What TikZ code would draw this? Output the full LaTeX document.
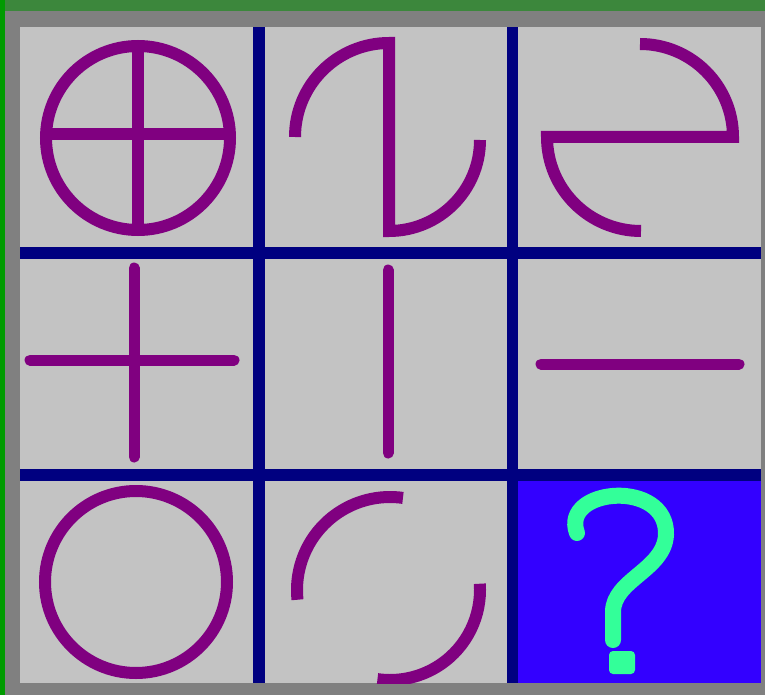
\documentclass[tikz,border=0pt]{standalone}
\definecolor{topgreen}{RGB}{60,135,60}
\definecolor{leftgreen}{RGB}{0,155,0}
\definecolor{framegray}{RGB}{128,128,128}
\definecolor{cellgray}{RGB}{195,195,195}
\definecolor{gridnavy}{RGB}{0,0,128}
\definecolor{sym}{RGB}{128,0,128}
\definecolor{qblue}{RGB}{51,0,255}
\definecolor{qgreen}{RGB}{51,255,153}
\tikzset{
  glyph/.style={draw=sym,line width=12pt},
  glyphr/.style={glyph,line cap=round},
  qmark/.style={draw=qgreen,line width=16pt,line cap=round,line join=round}
}
\begin{document}
\begin{tikzpicture}[x=1pt,y=-1pt]
\useasboundingbox (0,0) rectangle (765,695);
% frame
\fill[framegray] (0,0) rectangle (765,695);
\fill[topgreen] (0,0) rectangle (765,11);
\fill[leftgreen] (0,0) rectangle (4.5,695);
\fill[cellgray] (20,27) rectangle (761,683);
% blue cell
\fill[qblue] (518,481) rectangle (761,683);
% grid
\fill[gridnavy] (253,27) rectangle (265,683);
\fill[gridnavy] (507,27) rectangle (518,683);
\fill[gridnavy] (20,247) rectangle (761,259);
\fill[gridnavy] (20,469) rectangle (761,481);
\begin{scope}
\clip (20,27) rectangle (761,683);
% cell 1: circle with cross
\draw[glyph] (138,138) circle (92);
\draw[glyph] (138,46) -- (138,230);
\draw[glyph] (46,134) -- (230,134);
% cell 2
\draw[glyph] (295,137) arc[start angle=180,end angle=270,radius=94] -- (389,231)
  arc[start angle=90,end angle=0,radius=91];
% cell 3
\draw[glyph] (640,44) arc[start angle=270,end angle=360,radius=93] -- (547,137)
  arc[start angle=180,end angle=90,radius=94];
% cell 4: cross
\draw[glyphr,line width=11pt] (134,268) -- (134,457);
\draw[glyphr,line width=11pt] (30,360) -- (234,360);
% cell 5
\draw[glyphr,line width=11pt] (388,270) -- (388,453);
% cell 6
\draw[glyphr,line width=11pt] (541,364) -- (739,364);
% cell 7
\draw[glyph] (136,582) circle (91);
% cell 8
\coordinate (c8) at (390,590);
\draw[glyph] (c8) ++(174:93) arc[start angle=174,end angle=278,radius=93];
\draw[glyph] (c8) ++(-4:90) arc[start angle=-4,end angle=98,radius=90];
% cell 9: question mark
\draw[qmark] (577,533) .. controls (560,488) and (668,478) .. (666,535)
  .. controls (664,570) and (613,580) .. (613,612) -- (613,640);
\fill[qgreen,rounded corners=4pt] (609,651) rectangle (635,674);
\end{scope}
\end{tikzpicture}
\end{document}
